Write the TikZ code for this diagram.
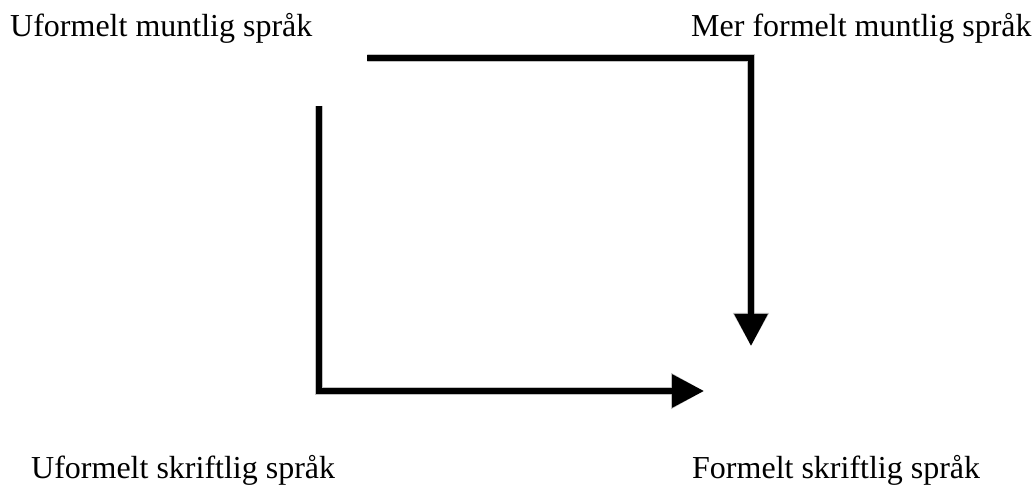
\documentclass[tikz,border=0pt]{standalone}
\usepackage{fontspec}
\setmainfont{Liberation Serif}
\usetikzlibrary{arrows.meta}
\tikzset{
  flow/.style={draw=black, line width=6pt, line join=miter, -{Triangle[width=32pt,length=32pt]}},
  flowshadow/.style={draw=black!#1, line width=8pt, line join=miter, -{Triangle[width=34pt,length=33pt]}},
  lbl/.style={anchor=base west, inner sep=0pt, font=\fontsize{32}{38}\selectfont},
}
\begin{document}
\begin{tikzpicture}[x=1pt,y=-1pt]
\useasboundingbox (0,0) rectangle (1034,486);
\node[lbl] (um) at (10,37) {Uformelt muntlig språk};
\node[lbl] (mm) at (691,37) {Mer formelt muntlig språk};
\node[lbl] (us) at (31,478) {Uformelt skriftlig språk};
\node[lbl] (fs) at (692,478) {Formelt skriftlig språk};
\coordinate (a1) at (367,58);
\coordinate (a2) at (751,58);
\coordinate (a3) at (751,346);
\coordinate (b1) at (319,106);
\coordinate (b2) at (319,391);
\coordinate (b3) at (704,391);
\begin{scope}[shift={(3,5)}, opacity=0.35]
  \draw[flowshadow=30] ([xshift=1pt]a1) -- (a2) -- (a3);
  \draw[flowshadow=30] (b1) -- (b2) -- (b3);
\end{scope}
\begin{scope}[shift={(2,3)}, opacity=0.4]
  \draw[flowshadow=45] (a1) -- (a2) -- (a3);
  \draw[flowshadow=45] (b1) -- (b2) -- (b3);
\end{scope}
\draw[flow] (a1) -- (a2) -- (a3);
\draw[flow] (b1) -- (b2) -- (b3);
\end{tikzpicture}
\end{document}
